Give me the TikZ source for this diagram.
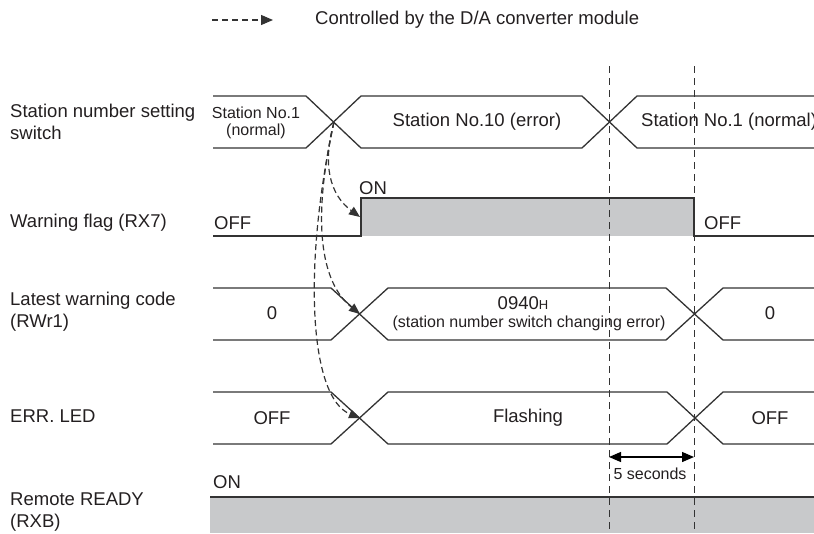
\documentclass[tikz,border=0pt]{standalone}
\usepackage{fontspec}
\setmainfont{Liberation Sans}
\usetikzlibrary{arrows.meta}
\definecolor{ln}{HTML}{333333}
\definecolor{fillg}{HTML}{C8C9CB}
\definecolor{txt}{HTML}{231F20}
\begin{document}
\begin{tikzpicture}[x=1pt,y=-1pt,
  every node/.style={inner sep=0pt, text=txt},
  sig/.style={draw=ln, line width=1.3pt, line join=miter},
  big/.style={font=\fontsize{18.5}{22}\selectfont},
  small/.style={font=\fontsize{16}{17}\selectfont},
  vdash/.style={draw=ln, line width=1pt, dash pattern=on 7pt off 5pt},
  ctrl/.style={draw=ln, line width=1.2pt, dash pattern=on 6pt off 3.5pt, -{Triangle[length=11pt,width=9pt]}},
  legarrow/.style={draw=ln, line width=1.1pt, dash pattern=on 6pt off 4pt, -{Triangle[length=12pt,width=10pt]}},
  dimarrow/.style={draw=black, line width=1.3pt, {Triangle[length=12pt,width=10pt]}-{Triangle[length=12pt,width=10pt]}}
]
\clip (0,0) rectangle (814,533);

% legend
\coordinate (lgA) at (212,20);
\coordinate (lgB) at (273,20);
\draw[legarrow] (lgA) -- (lgB);
\node[big, anchor=west] (legtext) at (315,20) {Controlled by the D/A converter module};

% left labels
\node[big, anchor=west, align=left] (l1) at (10,122) {Station number setting\\switch};
\node[big, anchor=west] (l2) at (10,223) {Warning flag (RX7)};
\node[big, anchor=west, align=left] (l3) at (10,312) {Latest warning code\\(RWr1)};
\node[big, anchor=west] (l4) at (10,416) {ERR. LED};
\node[big, anchor=west, align=left] (l5) at (10,512) {Remote READY\\(RXB)};

% fills
\fill[fillg] (361,198) rectangle (694,236);
\fill[fillg] (210,497) rectangle (814,533);

% dashed vertical markers
\coordinate (v1t) at (609,66);
\coordinate (v1b) at (609,533);
\coordinate (v2t) at (694,66);
\coordinate (v2b) at (694,533);
\draw[vdash] (v1t) -- (v1b);
\draw[vdash] (v2t) -- (v2b);

% station number row
\draw[sig] (213,96) -- (306,96) -- (361,148) -- (582,148) -- (637,96) -- (814,96);
\draw[sig] (213,148) -- (306,148) -- (361,96) -- (582,96) -- (637,148) -- (814,148);
\node[small, align=center] (s1) at (256,123) {Station No.1\\(normal)};
\node[big] (s2) at (477,122) {Station No.10 (error)};
\node[big, anchor=west] (s3) at (641,122) {Station No.1 (normal)};

% warning flag row
\draw[sig] (213,236) -- (361,236) -- (361,198) -- (694,198) -- (694,236) -- (814,236);
\node[big, anchor=west] (wfon) at (359,188) {ON};
\node[big, anchor=west] (wfoff1) at (214,223) {OFF};
\node[big, anchor=west] (wfoff2) at (704,223) {OFF};

% latest warning code row
\draw[sig] (213,288) -- (331,288) -- (388,340) -- (666,340) -- (723,288) -- (814,288);
\draw[sig] (213,340) -- (331,340) -- (388,288) -- (666,288) -- (723,340) -- (814,340);
\node[big] (c0a) at (272,313) {0};
\node[big] (c1) at (523,303) {0940{\fontsize{13}{13}\selectfont H}};
\node[small] (c1b) at (529,323) {(station number switch changing error)};
\node[big] (c0b) at (770,313) {0};

% ERR LED row
\draw[sig] (213,392) -- (331,392) -- (388,444) -- (667,444) -- (723,392) -- (814,392);
\draw[sig] (213,444) -- (331,444) -- (388,392) -- (667,392) -- (723,444) -- (814,444);
\node[big] (e1) at (272,418) {OFF};
\node[big] (e2) at (528,418) {Flashing};
\node[big] (e3) at (770,418) {OFF};

% remote ready row
\draw[sig] (210,497) -- (814,497);
\node[big, anchor=west] (ron) at (213,482) {ON};

% 5 seconds
\coordinate (dA) at (609,457);
\coordinate (dB) at (694,457);
\draw[dimarrow] (dA) -- (dB);
\node[small] (fs) at (650,474) {5 seconds};

% control arrows
\coordinate (x1) at (334,122);
\coordinate (wf) at (360,217);
\coordinate (x2) at (360,314);
\coordinate (x3) at (360,418);
\draw[ctrl] (x1) .. controls (322,165) and (330,195) .. (wf);
\draw[ctrl] (x1) .. controls (312,220) and (320,282) .. (x2);
\draw[ctrl] (x1) .. controls (302,270) and (310,398) .. (x3);
\end{tikzpicture}
\end{document}
